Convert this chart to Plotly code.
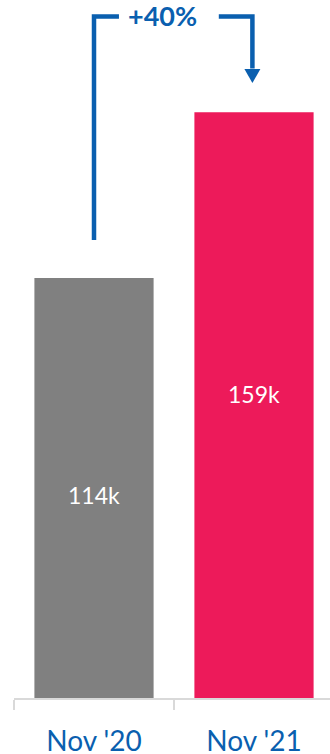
import plotly.graph_objects as go

categories = ["Nov '20", "Nov '21"]
values = [114, 159]           # thousands
bar_labels = ["114k", "159k"]
bar_colors = ["#808080", "#ED1A5A"]
change_label = "+40%"

BLUE = "#0A5FAF"
FONT = "Lato"

fig = go.Figure()
fig.add_trace(go.Bar(
    x=categories, y=values,
    marker=dict(color=bar_colors, line=dict(width=0)),
    width=0.745,
    hoverinfo="skip",
))

# value labels inside bars
for i, (v, lab) in enumerate(zip(values, bar_labels)):
    fig.add_annotation(x=i, y=v / 2, text=lab, showarrow=False,
                       yshift=[-7, 11][i],
                       font=dict(family=FONT, size=23, color="white"))

# bracket arrow
top = max(values) + 26
left_bottom = values[0] + 10.3
tip = values[1] + 7.9
fig.add_shape(type="path", xref="x", yref="y",
              path=f"M 0,{left_bottom} L 0,{top} L 0.156,{top}",
              line=dict(color=BLUE, width=4.5))
fig.add_shape(type="path", xref="x", yref="y",
              path=f"M 0.78,{top} L 0.99,{top} L 0.99,{tip + 4}",
              line=dict(color=BLUE, width=4.5))
fig.add_shape(type="path", xref="x", yref="y",
              xsizemode="pixel", ysizemode="pixel",
              xanchor=0.99, yanchor=tip,
              path="M -8,14 L 8,14 L 0,0 Z",
              fillcolor=BLUE, line=dict(color=BLUE, width=0))
fig.add_annotation(x=0.43, y=top, text=f"<b>{change_label}</b>", showarrow=False,
                   yshift=1,
                   font=dict(family=FONT, size=27, color=BLUE))

fig.update_layout(
    width=330, height=754,
    margin=dict(l=14, r=0, t=0, b=56),
    paper_bgcolor="white", plot_bgcolor="white",
    showlegend=False,
    xaxis=dict(range=[-0.5, 1.475], tickson="boundaries", automargin=False,
               showline=True, linecolor="#D9D9D9", linewidth=2,
               ticks="outside", ticklen=10, tickwidth=2, tickcolor="#D9D9D9",
               tickfont=dict(family=FONT, size=28, color=BLUE),
               ticklabelstandoff=17,
               showgrid=False, zeroline=False, fixedrange=True),
    yaxis=dict(range=[0, 189.46], visible=False, showgrid=False,
               zeroline=False, fixedrange=True, automargin=False),
)

fig.write_html("out.html", config={"displayModeBar": False},
               post_script="document.body.style.margin='0';document.body.style.overflow='hidden';")
